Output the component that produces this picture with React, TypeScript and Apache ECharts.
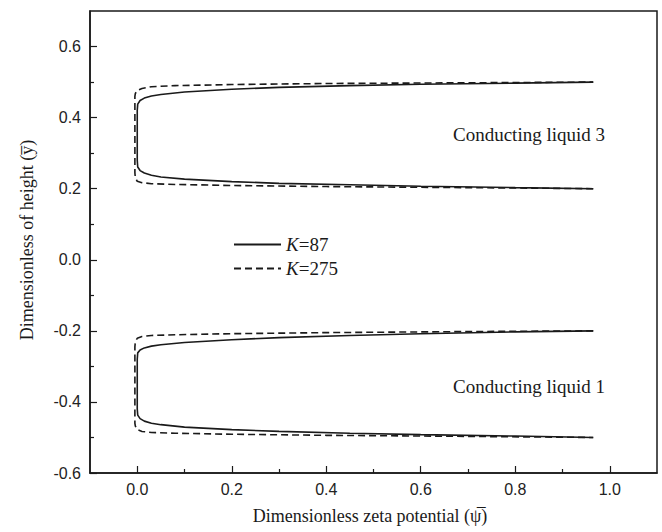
import React, { useEffect, useRef } from "react";
import * as echarts from "echarts";

// K=87 (solid), upper region (conducting liquid 3)
const k87UpperX = [0.965, 0.8, 0.6, 0.45, 0.3, 0.2, 0.1, 0.05, 0.03, 0.015, 0.006, 0.001, 0.0, 0.0, 0.001, 0.006, 0.015, 0.03, 0.05, 0.1, 0.2, 0.3, 0.45, 0.6, 0.8, 0.965];
const k87UpperY = [0.2, 0.203, 0.207, 0.211, 0.215, 0.22, 0.227, 0.233, 0.238, 0.244, 0.251, 0.261, 0.28, 0.42, 0.438, 0.448, 0.455, 0.461, 0.465, 0.472, 0.48, 0.485, 0.49, 0.494, 0.497, 0.5];
// K=87 (solid), lower region (conducting liquid 1)
const k87LowerX = [0.965, 0.8, 0.6, 0.45, 0.3, 0.2, 0.1, 0.05, 0.03, 0.015, 0.006, 0.001, 0.0, 0.0, 0.001, 0.006, 0.015, 0.03, 0.05, 0.1, 0.2, 0.3, 0.45, 0.6, 0.8, 0.965];
const k87LowerY = [-0.2, -0.203, -0.208, -0.213, -0.219, -0.225, -0.233, -0.239, -0.243, -0.248, -0.254, -0.262, -0.28, -0.42, -0.437, -0.447, -0.454, -0.46, -0.464, -0.471, -0.478, -0.483, -0.488, -0.492, -0.496, -0.5];
// K=275 (dashed), upper region
const k275UpperX = [0.965, 0.7, 0.4, 0.2, 0.08, 0.03, 0.01, 0.0, -0.004, -0.005, -0.005, -0.004, 0.0, 0.01, 0.03, 0.08, 0.2, 0.4, 0.7, 0.965];
const k275UpperY = [0.2, 0.203, 0.206, 0.209, 0.212, 0.214, 0.217, 0.221, 0.23, 0.245, 0.46, 0.468, 0.476, 0.482, 0.487, 0.49, 0.493, 0.496, 0.498, 0.5];
// K=275 (dashed), lower region
const k275LowerX = [0.965, 0.7, 0.4, 0.2, 0.08, 0.03, 0.01, 0.0, -0.004, -0.005, -0.005, -0.004, 0.0, 0.01, 0.03, 0.08, 0.2, 0.4, 0.7, 0.965];
const k275LowerY = [-0.2, -0.202, -0.205, -0.208, -0.211, -0.213, -0.216, -0.221, -0.23, -0.245, -0.46, -0.468, -0.478, -0.483, -0.486, -0.488, -0.491, -0.494, -0.497, -0.5];

const xMajor = [0, 0.2, 0.4, 0.6, 0.8, 1.0];
const xMinor = [0.1, 0.3, 0.5, 0.7, 0.9];
const yMajor = [-0.6, -0.4, -0.2, 0, 0.2, 0.4, 0.6];
const yMinor = [-0.5, -0.3, -0.1, 0.1, 0.3, 0.5];

const seriesNames = ["K=87", "K=275"];
const regionLabels = ["Conducting liquid 3", "Conducting liquid 1"];
const xTitle = "Dimensionless zeta potential (\u03C8\u0305)";
const yTitle = "Dimensionless of height (y\u0305)";

const zip = (xs: number[], ys: number[]) => xs.map((x, i) => [x, ys[i]]);

export default function App() {
  const ref = useRef<HTMLDivElement>(null);
  useEffect(() => {
    if (!ref.current) return;
    const chart = echarts.init(ref.current, undefined, { renderer: "svg" });
    const ink = "#1a1a1a";
    const sans = "'Liberation Sans', Arial, sans-serif";
    const serif = "'Liberation Serif', 'Times New Roman', serif";
    const grid = { left: 90, right: 5, top: 11, bottom: 59 };
    const fmt = (v: number) => (Math.abs(v) < 1e-9 ? "0.0" : v.toFixed(1));
    const lineBase = (name: string, data: number[][], dashed: boolean) => ({
      type: "line",
      name,
      data,
      xAxisIndex: 0,
      yAxisIndex: 0,
      symbol: "none",
      smooth: false,
      lineStyle: { color: ink, width: 1.6, type: dashed ? [7, 4] : "solid" },
      itemStyle: { color: ink },
    });
    chart.setOption({
      animation: false,
      backgroundColor: "#ffffff",
      grid: { ...grid, show: true, borderColor: ink, borderWidth: 1.5, backgroundColor: "transparent" },
      legend: {
        orient: "vertical",
        left: 233,
        top: 235,
        padding: 0,
        itemWidth: 47,
        itemHeight: 14,
        itemGap: 5,
        data: seriesNames,
        itemStyle: { opacity: 0 },
        formatter: (name: string) => `{i|K}{n|${name.slice(1)}}`,
        textStyle: {
          color: ink,
          rich: {
            i: { fontFamily: serif, fontStyle: "italic", fontSize: 19, color: ink },
            n: { fontFamily: serif, fontSize: 19, color: ink },
          },
        },
      },
      xAxis: [
        {
          type: "value",
          min: -0.1,
          max: 1.1,
          position: "bottom",
          axisLine: { show: true, onZero: false, lineStyle: { color: ink, width: 1.5 } },
          axisTick: { show: true, inside: true, length: 7, customValues: xMajor, lineStyle: { color: ink, width: 1.2 } },
          axisLabel: { customValues: xMajor, formatter: fmt, color: "#222", fontFamily: sans, fontSize: 16, margin: 8 },
          splitLine: { show: false },
        },
        {
          type: "value",
          min: -0.1,
          max: 1.1,
          position: "bottom",
          axisLine: { show: false, onZero: false },
          axisTick: { show: true, inside: true, length: 4, customValues: xMinor, lineStyle: { color: ink, width: 1.2 } },
          axisLabel: { show: false },
          splitLine: { show: false },
        },
      ],
      yAxis: [
        {
          type: "value",
          min: -0.6,
          max: 0.7,
          position: "left",
          axisLine: { show: true, onZero: false, lineStyle: { color: ink, width: 1.5 } },
          axisTick: { show: true, inside: true, length: 7, customValues: yMajor, lineStyle: { color: ink, width: 1.2 } },
          axisLabel: { customValues: yMajor, formatter: fmt, color: "#222", fontFamily: sans, fontSize: 16, margin: 9 },
          splitLine: { show: false },
        },
        {
          type: "value",
          min: -0.6,
          max: 0.7,
          position: "left",
          axisLine: { show: false, onZero: false },
          axisTick: { show: true, inside: true, length: 4, customValues: yMinor, lineStyle: { color: ink, width: 1.2 } },
          axisLabel: { show: false },
          splitLine: { show: false },
        },
      ],
      series: [
        lineBase(seriesNames[0], zip(k87UpperX, k87UpperY), false),
        lineBase(seriesNames[0], zip(k87LowerX, k87LowerY), false),
        lineBase(seriesNames[1], zip(k275UpperX, k275UpperY), true),
        lineBase(seriesNames[1], zip(k275LowerX, k275LowerY), true),
      ],
      graphic: [
        {
          type: "text",
          x: 529,
          y: 134,
          style: { text: regionLabels[0], fill: ink, font: `19px ${serif}`, align: "center", verticalAlign: "middle" },
        },
        {
          type: "text",
          x: 529,
          y: 386,
          style: { text: regionLabels[1], fill: ink, font: `19px ${serif}`, align: "center", verticalAlign: "middle" },
        },
        {
          type: "text",
          x: 370,
          y: 516,
          style: { text: xTitle, fill: ink, font: `18px ${serif}`, align: "center", verticalAlign: "middle" },
        },
        {
          type: "text",
          x: 27,
          y: 240,
          rotation: Math.PI / 2,
          style: { text: yTitle, fill: ink, font: `18px ${serif}`, align: "center", verticalAlign: "middle" },
        },
      ],
    });
    return () => chart.dispose();
  }, []);
  return (
    <div
      ref={ref}
      style={{ position: "fixed", left: 0, top: 0, width: 662, height: 532 }}
    />
  );
}
